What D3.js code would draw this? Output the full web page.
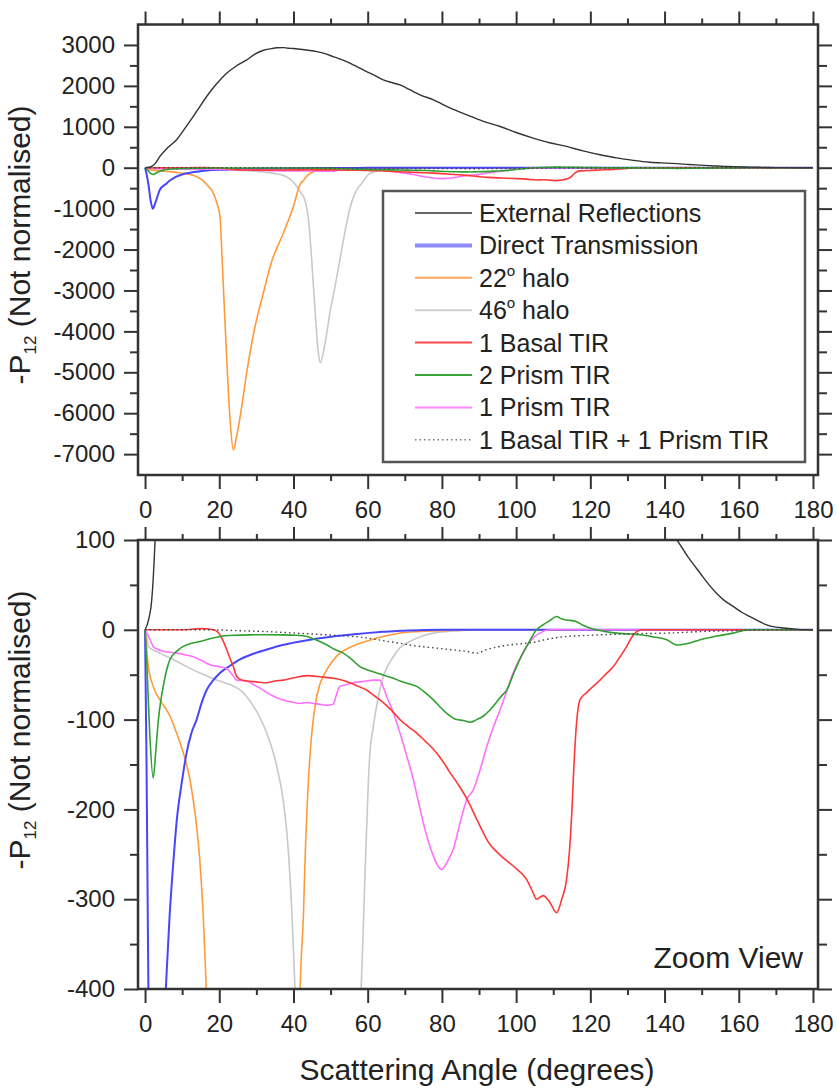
<!DOCTYPE html>
<html><head><meta charset="utf-8">
<script src="https://cdn.jsdelivr.net/npm/d3@7"></script>
<style>
body{margin:0;background:#fff}
text{font-family:"Liberation Sans",Arial,Helvetica,sans-serif;fill:#222}
</style>
</head><body>
<svg id="c" width="837" height="1088"></svg>
<script>
// ---------------- DATA ----------------
const xMajorTicks = [0,20,40,60,80,100,120,140,160,180];
const xMinorTicks = [10,30,50,70,90,110,130,150,170];
const yTopMajorTicks = [3000,2000,1000,0,-1000,-2000,-3000,-4000,-5000,-6000,-7000];
const yTopMinorTicks = [2500,1500,500,-500,-1500,-2500,-3500,-4500,-5500,-6500];
const yZoomMajorTicks = [100,0,-100,-200,-300,-400];
const yZoomMinorTicks = [50,-50,-150,-250,-350];

const seriesNames = ["External Reflections","Direct Transmission","22° halo","46° halo",
  "1 Basal TIR","2 Prism TIR","1 Prism TIR","1 Basal TIR + 1 Prism TIR"];

const externalReflections = [[0,0],[1,12],[1.8,33],[2.7,100],[4,276],[6,480],[8.5,683],[10.5,930],[13,1252],[14.8,1500],[16.6,1740],[19,2020],[22,2310],[24.5,2480],[27.4,2635],[29.5,2770],[31.9,2870],[34,2910],[35.5,2930],[37.3,2935],[38.5,2920],[40,2915],[41.8,2895],[44,2870],[46.3,2838],[48.5,2790],[50.7,2716],[53,2640],[55.2,2555],[57.5,2450],[59.7,2350],[62,2250],[64.2,2147],[66.5,2080],[68.7,2025],[71.5,1900],[74.1,1781],[77.7,1659],[82,1470],[86.7,1293],[91,1140],[95.7,1008],[100,860],[104.6,724],[109,610],[113.6,520],[118,410],[122.6,317],[127,240],[131.6,180],[136,135],[140.6,112],[143.3,100],[146.5,80],[149.6,63],[152,50],[154,40.7],[156,33],[158.5,26],[161,19],[163,14.8],[165.5,9.5],[167.5,5.5],[170,3],[172,2],[176,0.5],[180,0]];

const directTransmission = [[0,0],[0.4,-150],[0.9,-400],[1.5,-800],[2.1,-1000],[2.8,-850],[4,-540],[5.6,-400],[6.6,-320],[7.6,-260],[8.6,-210],[9.9,-170],[11.2,-137],[12.5,-115],[13.9,-100],[15.2,-82],[16.6,-67],[18.4,-56],[20.2,-48],[22.9,-40],[25.6,-33],[29,-27],[32.8,-22],[37,-17],[41.8,-13],[46,-10],[50.7,-7.4],[55,-5.5],[59.7,-3.7],[64,-2.3],[68.7,-1],[75,-0.3],[80,0],[180,0]];

const halo22 = [[0,0],[0.5,-25],[0.9,-41],[2.2,-63],[4,-78],[5.3,-86],[6.7,-96],[8.5,-115],[10.3,-137],[12.1,-167],[13.5,-205],[14.8,-259],[15.7,-320],[16.5,-400],[17.5,-500],[18.4,-620],[19.3,-850],[20.2,-1200],[20.8,-2300],[22,-4650],[22.9,-6150],[23.8,-6900],[24.6,-6600],[25.6,-6100],[27.4,-5000],[29.6,-3900],[31.9,-3057],[34.1,-2300],[37.3,-1594],[40,-944],[41.8,-400],[42.7,-315],[43.1,-259],[44,-170],[44.5,-137],[45.8,-85],[47,-62],[48.5,-48],[50.5,-35],[52.5,-26],[55,-20],[57.9,-15],[61,-11],[64.2,-7.4],[70,-3],[80,-1],[90,0],[180,0]];

const halo46 = [[0,0],[0.5,-10],[0.9,-18.5],[2.5,-23],[4,-26],[7.6,-33],[11.2,-41],[14.8,-48],[19.3,-56],[22.9,-61],[25.6,-67],[27.5,-75],[29.2,-85],[31,-98],[32.8,-115],[34.2,-132],[35.5,-152],[37.3,-192],[38.3,-230],[39.1,-278],[40.4,-400],[41.6,-560],[43.1,-800],[44.2,-1400],[44.9,-2245],[45.8,-3465],[46.7,-4520],[47.2,-4765],[48.5,-4300],[49.9,-3500],[51.2,-2900],[52.5,-2250],[53.5,-1750],[54.5,-1280],[55.5,-900],[56.5,-640],[57.5,-480],[58.5,-370],[59.3,-270],[60.2,-167],[60.6,-137],[61.5,-108],[62.4,-85],[64.2,-52],[66.9,-30],[68.7,-20],[70.5,-15],[74,-8],[77.7,-3.7],[85,-1],[90,0],[180,0]];

const basalTIR1 = [[0,0],[10,0],[15,1.3],[18.4,0],[20.2,-5.6],[21,-12],[22,-22],[23,-33],[23.8,-41],[24.7,-52],[26,-56],[27.4,-57],[30,-58],[32.8,-59],[35,-57],[37.3,-56],[39.5,-54],[41.8,-52],[44,-51],[46.3,-52],[48.5,-53],[50.7,-54],[53,-56],[55.2,-59],[57.5,-63],[59.7,-67],[62,-74],[64.2,-81],[66.5,-90],[68.7,-100],[71,-108],[73.2,-115],[75.5,-124],[77.7,-133],[80,-145],[82.2,-159],[84.5,-173],[86.7,-188],[89.5,-212],[92.6,-237],[96,-252],[99.2,-263],[102.8,-278],[104.5,-292],[105.5,-300],[107.3,-296],[109,-303],[110.9,-315],[112.3,-300],[113.6,-278],[114.4,-245],[115,-204],[115.4,-167],[116,-120],[117.2,-78],[119,-70],[120.5,-64],[122.6,-56],[124.5,-48],[126.2,-41],[128,-30],[129.8,-18.5],[131.2,-8],[132.5,-2],[134,0],[180,0]];

const prismTIR2 = [[0,0],[0.5,-40],[1.2,-110],[2.2,-165],[2.9,-135],[3.6,-100],[4.2,-80],[4.9,-63],[5.8,-45],[6.7,-33],[8.5,-24],[10.3,-18.5],[12.5,-15],[14.8,-13],[17.5,-10],[20.2,-7.4],[24,-6],[28.3,-5.6],[33,-5.5],[37.3,-5.6],[40.5,-6],[43.6,-7.4],[46.5,-12],[49,-17],[51.2,-22],[53.4,-26],[55.7,-33],[57.9,-41],[60.2,-45],[62.4,-48],[64.6,-51],[66.9,-54],[68.7,-57],[71,-60],[73.2,-63],[75.5,-70],[77.7,-78],[79.5,-86],[81.3,-93],[84,-100],[85.8,-101],[87.6,-103],[89.4,-100],[91.2,-96],[93,-89],[94.8,-80],[96.2,-73],[97.5,-67],[99.2,-50],[101,-33],[103.3,-15],[105.5,0],[107.3,5.6],[109,10],[110.9,14.8],[112.3,12],[113.6,11],[116.3,9],[118,5],[119.9,2],[123.5,-1.5],[127,-3.7],[130,-4.5],[133.4,-5.6],[137,-8],[140.6,-11],[143.3,-17],[146.5,-15],[149.6,-11],[154,-7],[158.5,-3.7],[161,-1],[163,0],[180,0]];

const prismTIR1 = [[0,0],[0.4,-3],[0.9,-7],[2.2,-18.5],[3.5,-22],[4.9,-24],[8.5,-26],[11,-28],[13,-30],[15.2,-34],[17.5,-39],[19.8,-41],[22,-43],[23.5,-50],[24.7,-56],[27.4,-57],[29.2,-61],[31,-65],[32.8,-70],[34.6,-74],[37,-78],[39.1,-80],[41.4,-82],[43.6,-81],[45.4,-82],[47.2,-83],[49,-84],[50.7,-83],[51.6,-72],[52.5,-63],[54.3,-61],[56.1,-59],[57.9,-58],[59.7,-57],[61.5,-56],[63.3,-56],[64.2,-64],[65.1,-74],[66.9,-92],[68.7,-115],[70.5,-140],[72.3,-167],[73.7,-192],[75,-215],[76.3,-235],[77.7,-252],[78.8,-262],[79.9,-267],[81.5,-258],[83.1,-244],[84.9,-215],[86.7,-189],[88.5,-178],[90,-160],[92.1,-130],[93.9,-108],[95.7,-89],[97.5,-68],[99.2,-48],[101,-32],[102.8,-18.5],[104.6,-9],[106.4,-3.7],[109,0],[180,0]];

const basalPlusPrism = [[0,0],[18.4,0],[25,-1],[32.8,-2],[41.8,-4],[50.7,-6],[59.7,-9],[64,-12],[68.7,-15],[73,-18],[77.7,-20],[82,-22],[86.7,-24],[89.4,-26],[92,-22],[95.7,-18.5],[100,-16],[104.6,-14],[109,-10],[113.6,-7.4],[118,-6.5],[122.6,-5.6],[131.6,-4.4],[140.6,-3.7],[149.6,-2],[158.5,-1],[167.5,0],[180,0]];

const seriesData = [externalReflections,directTransmission,halo22,halo46,basalTIR1,prismTIR2,prismTIR1,basalPlusPrism];

// ---------------- STYLE / LAYOUT ----------------
const lineStyles = [
  {c:"#333333", w:1.4, lc:"#333333", lw:1.5},
  {c:"#4646ff", w:2,   lc:"#8c8cff", lw:4},
  {c:"#ff9a3a", w:1.6, lc:"#ffa55a", lw:2},
  {c:"#c9c9c9", w:1.6, lc:"#cfcfcf", lw:2},
  {c:"#ff3838", w:1.6, lc:"#ff4a4a", lw:2},
  {c:"#30a030", w:1.6, lc:"#3aa53a", lw:2},
  {c:"#ff70ff", w:1.6, lc:"#ff88ff", lw:2},
  {c:"#444444", w:1.4, lc:"#777777", lw:1.5, dash:"1.5,3"}
];
const drawOrder = [3,2,1,6,4,5,0,7];

const svg = d3.select("#c");
const plotL = 138, plotR = 818;
const x = d3.scaleLinear().domain([-1.9,181.35]).range([plotL,plotR]);
const fmt = d => String(d);

const panels = [
  {id:"top", top:24.5, bottom:475, domain:[-7510,3500], major:yTopMajorTicks, minor:yTopMinorTicks, titleY:245},
  {id:"zoom", top:540, bottom:989, domain:[-400,100], major:yZoomMajorTicks, minor:yZoomMinorTicks, titleY:730}
];

panels.forEach(p => {
  const y = d3.scaleLinear().domain(p.domain).range([p.bottom,p.top]);
  const g = svg.append("g");
  g.append("clipPath").attr("id","clip-"+p.id).append("rect")
    .attr("x",plotL).attr("y",p.top).attr("width",plotR-plotL).attr("height",p.bottom-p.top);

  const line = d3.line().x(d=>x(d[0])).y(d=>y(d[1])).curve(d3.curveMonotoneX);
  const lg = g.append("g").attr("clip-path","url(#clip-"+p.id+")");
  drawOrder.forEach(i => {
    const s = lineStyles[i];
    lg.append("path").datum(seriesData[i]).attr("d",line)
      .attr("fill","none").attr("stroke",s.c).attr("stroke-width",s.w)
      .attr("stroke-linejoin","round")
      .attr("stroke-dasharray",s.dash||null);
  });

  function styleAxis(sel){
    sel.select(".domain").remove();
    sel.selectAll("line").attr("stroke","#333").attr("stroke-width",2);
    sel.selectAll("text").style("font-size","24px").attr("fill","#222")
      .style("font-family",'"Liberation Sans",Arial,sans-serif');
  }
  g.append("g").attr("transform",`translate(0,${p.bottom})`)
    .call(d3.axisBottom(x).tickValues(xMajorTicks).tickSize(14).tickPadding(12).tickFormat(fmt))
    .call(styleAxis);
  g.append("g").attr("transform",`translate(0,${p.bottom})`)
    .call(d3.axisBottom(x).tickValues(xMinorTicks).tickSize(6).tickFormat(""))
    .call(styleAxis);
  g.append("g").attr("transform",`translate(0,${p.top})`)
    .call(d3.axisTop(x).tickValues(xMajorTicks).tickSize(13).tickFormat(""))
    .call(styleAxis);
  g.append("g").attr("transform",`translate(0,${p.top})`)
    .call(d3.axisTop(x).tickValues(xMinorTicks).tickSize(6).tickFormat(""))
    .call(styleAxis);
  g.append("g").attr("transform",`translate(${plotL},0)`)
    .call(d3.axisLeft(y).tickValues(p.major).tickSize(14).tickPadding(9).tickFormat(fmt))
    .call(styleAxis);
  g.append("g").attr("transform",`translate(${plotL},0)`)
    .call(d3.axisLeft(y).tickValues(p.minor).tickSize(8).tickFormat(""))
    .call(styleAxis);
  g.append("g").attr("transform",`translate(${plotR},0)`)
    .call(d3.axisRight(y).tickValues(p.major).tickSize(14).tickFormat(""))
    .call(styleAxis);
  g.append("g").attr("transform",`translate(${plotR},0)`)
    .call(d3.axisRight(y).tickValues(p.minor).tickSize(9).tickFormat(""))
    .call(styleAxis);

  g.append("rect").attr("x",plotL).attr("y",p.top).attr("width",plotR-plotL).attr("height",p.bottom-p.top)
    .attr("fill","none").attr("stroke","#333").attr("stroke-width",2.5);

  const t = g.append("text").attr("transform",`translate(30,${p.titleY}) rotate(-90)`)
    .attr("text-anchor","middle").style("font-size","30px");
  t.append("tspan").text("-P");
  t.append("tspan").text("12").style("font-size","17px").attr("dy",6);
  t.append("tspan").text(" (Not normalised)").attr("dy",-6);
});

// legend
const leg = svg.append("g");
leg.append("rect").attr("x",383).attr("y",191).attr("width",422).attr("height",271)
  .attr("fill","#fff").attr("stroke","#555").attr("stroke-width",2.5);
seriesNames.forEach((name,i) => {
  const cy = 213 + i*32.4;
  const s = lineStyles[i];
  leg.append("line").attr("x1",415).attr("x2",472).attr("y1",cy).attr("y2",cy)
    .attr("stroke",s.lc).attr("stroke-width",s.lw).attr("stroke-dasharray",s.dash||null);
  const t = leg.append("text").attr("x",479).attr("y",cy+9).style("font-size","25px");
  const m = name.match(/^(\d+)°(.*)$/);
  if (m) {
    t.append("tspan").text(m[1]);
    t.append("tspan").text("o").style("font-size","15px").attr("dy",-11);
    t.append("tspan").text(m[2]).attr("dy",11);
  } else {
    t.text(name);
  }
});

svg.append("text").attr("x",803).attr("y",968).attr("text-anchor","end")
  .style("font-size","30px").text("Zoom View");

svg.append("text").attr("x",477).attr("y",1080).attr("text-anchor","middle")
  .style("font-size","30px").text("Scattering Angle (degrees)");
</script>
</body></html>
